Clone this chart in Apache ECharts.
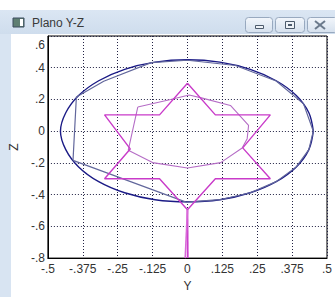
<!DOCTYPE html>
<html><head><meta charset="utf-8">
<script src="https://cdn.jsdelivr.net/npm/echarts@6/dist/echarts.min.js"></script>
<style>html,body{margin:0;padding:0;background:#fff}#c{width:335px;height:297px}</style>
</head><body><div id="c"></div>
<script>
const windowTitle = 'Plano Y-Z';
const xName = 'Y';
const yName = 'Z';
const xTickValues = [-0.5, -0.375, -0.25, -0.125, 0, 0.125, 0.25, 0.375, 0.5];
const xTickLabels = ['-.5', '-.375', '-.25', '-.125', '0', '.125', '.25', '.375', '.5'];
const zTickValues = [-0.8, -0.6, -0.4, -0.2, 0, 0.2, 0.4, 0.6];
const zTickLabels = ['-.8', '-.6', '-.4', '-.2', '0', '.2', '.4', '.6'];

// navy circle
const circleY = [0.451, 0.435, 0.39, 0.318, 0.225, 0.116, 0, -0.116, -0.225, -0.318, -0.39, -0.436, -0.455, -0.436, -0.39, -0.318, -0.225, -0.116, 0, 0.116, 0.225, 0.318, 0.39, 0.435, 0.451];
const circleZ = [0, 0.116, 0.225, 0.318, 0.39, 0.435, 0.45, 0.435, 0.39, 0.318, 0.225, 0.116, 0, -0.116, -0.225, -0.318, -0.388, -0.432, -0.445, -0.432, -0.388, -0.318, -0.225, -0.116, 0];

// slate coarse trace
const traceY = [-0.41, -0.005, 0.116, 0.225, 0.318, 0.39, 0.435, 0.451, 0.416, 0.318, 0.172, 0, -0.13, -0.30, -0.398, -0.41];
const traceZ = [-0.184, -0.447, -0.432, -0.388, -0.318, -0.225, -0.116, 0, 0.172, 0.316, 0.414, 0.447, 0.432, 0.315, 0.215, -0.184];

// magenta star
const starY = [0, 0.1, 0.297, 0.198, 0.297, 0.1, 0, -0.1, -0.297, -0.205, -0.297, -0.1, 0];
const starZ = [0.302, 0.103, 0.103, -0.105, -0.3, -0.3, -0.495, -0.3, -0.3, -0.112, 0.103, 0.103, 0.302];

// orchid loop
const loopY = [-0.178, -0.06, 0.006, 0.05, 0.154, 0.219, 0.214, 0.196, 0.119, 0, -0.125, -0.212, -0.178];
const loopZ = [0.152, 0.2, 0.228, 0.21, 0.162, 0.036, -0.047, -0.106, -0.198, -0.232, -0.198, -0.12, 0.152];

// stem below star
const stemAY = [0, 0.001];
const stemAZ = [-0.495, -0.8];
const stemBY = [0, -0.008];
const stemBZ = [-0.495, -0.8];

const zip = (a, b) => a.map((v, i) => [v, b[i]]);
const font = 'Liberation Sans, Arial, sans-serif';
const chart = echarts.init(document.getElementById('c'), null, {renderer: 'svg'});

function lineSeries(name, ys, zs, color, width, smooth) {
  return {name, type: 'line', data: zip(ys, zs), showSymbol: false, symbol: 'none', smooth: smooth || false,
    lineStyle: {color, width}, animation: false, z: 3};
}

chart.setOption({
  animation: false,
  backgroundColor: '#ffffff',
  grid: {left: 46, right: 8, top: 36, bottom: 38, show: true, borderColor: '#000', borderWidth: 1, backgroundColor: '#fff'},
  xAxis: {
    type: 'value', min: -0.5, max: 0.5, interval: 0.125,
    name: xName, nameLocation: 'middle', nameGap: 21,
    nameTextStyle: {color: '#333', fontSize: 12, fontFamily: font},
    axisLine: {show: true, onZero: false, lineStyle: {color: '#000', width: 1}},
    axisTick: {show: false},
    axisLabel: {color: '#333', fontSize: 12, fontFamily: font, margin: 5,
      formatter: v => { const i = xTickValues.findIndex(t => Math.abs(t - v) < 1e-6); return i >= 0 ? xTickLabels[i] : ''; }},
    splitLine: {show: true, lineStyle: {color: '#222244', width: 1, type: [1, 2]}}
  },
  yAxis: {
    type: 'value', min: -0.8, max: 0.6, interval: 0.2,
    name: yName, nameLocation: 'middle', nameGap: 25,
    nameTextStyle: {color: '#333', fontSize: 12, fontFamily: font},
    axisLine: {show: true, onZero: false, lineStyle: {color: '#000', width: 1}},
    axisTick: {show: false},
    axisLabel: {color: '#333', fontSize: 12, fontFamily: font, margin: 3,
      formatter: v => { const i = zTickValues.findIndex(t => Math.abs(t - v) < 1e-6); if (i < 0) return ''; return i === zTickValues.length - 1 ? '{t|' + zTickLabels[i] + '}' : zTickLabels[i]; },
      rich: {t: {color: '#333', fontSize: 12, fontFamily: font, padding: [18, 0, 0, 0]}}},
    splitLine: {show: true, lineStyle: {color: '#222244', width: 1, type: [1, 2]}}
  },
  graphic: [
    {type: 'rect', z: -10, shape: {x: 0, y: 10, width: 11, height: 287}, style: {fill: '#d8e4f2'}},
    {type: 'rect', z: -10, shape: {x: 0, y: 10, width: 335, height: 24},
      style: {fill: new echarts.graphic.LinearGradient(0, 0, 0, 1, [{offset: 0, color: '#dbe6f3'}, {offset: 1, color: '#cfdded'}])}},
    {type: 'rect', z: -9, shape: {x: 13, y: 18, width: 11, height: 9}, style: {fill: '#5f7f72', stroke: '#3d4d5e', lineWidth: 1}},
    {type: 'rect', z: -8, shape: {x: 20, y: 19, width: 3, height: 7}, style: {fill: '#ffffff'}},
    {type: 'text', z: -8, style: {x: 32, y: 23, text: windowTitle, fill: '#3a3a3a', fontSize: 12, fontFamily: 'Liberation Sans, Arial, sans-serif', verticalAlign: 'middle'}},
    {type: 'rect', z: -9, shape: {x: 245.5, y: 17.5, width: 27, height: 15, r: 3},
      style: {fill: new echarts.graphic.LinearGradient(0, 0, 0, 1, [{offset: 0, color: '#f2f6fb'}, {offset: 1, color: '#d6e1ee'}]), stroke: '#98a9bf', lineWidth: 1}},
    {type: 'rect', z: -8, shape: {x: 255.5, y: 25.5, width: 8, height: 3}, style: {fill: '#eef2f7', stroke: '#4d5b6c', lineWidth: 1}},
    {type: 'rect', z: -9, shape: {x: 275.5, y: 17.5, width: 29, height: 15, r: 3},
      style: {fill: new echarts.graphic.LinearGradient(0, 0, 0, 1, [{offset: 0, color: '#f2f6fb'}, {offset: 1, color: '#d6e1ee'}]), stroke: '#98a9bf', lineWidth: 1}},
    {type: 'rect', z: -8, shape: {x: 285.5, y: 21.5, width: 9, height: 7}, style: {fill: '#eef2f7', stroke: '#4d5b6c', lineWidth: 1}},
    {type: 'rect', z: -8, shape: {x: 288, y: 24, width: 4, height: 2}, style: {fill: '#4d5b6c'}},
    {type: 'rect', z: -9, shape: {x: 307.5, y: 17.5, width: 30, height: 15, r: 3},
      style: {fill: new echarts.graphic.LinearGradient(0, 0, 0, 1, [{offset: 0, color: '#f2f6fb'}, {offset: 1, color: '#d6e1ee'}]), stroke: '#98a9bf', lineWidth: 1}},
    {type: 'line', z: -8, shape: {x1: 315, y1: 21, x2: 325, y2: 29}, style: {stroke: '#6b7a8c', lineWidth: 2}},
    {type: 'line', z: -8, shape: {x1: 325, y1: 21, x2: 315, y2: 29}, style: {stroke: '#6b7a8c', lineWidth: 2}}
  ],
  series: [
    lineSeries('circle', circleY, circleZ, '#1b1b86', 1.4, 0.35),
    lineSeries('trace', traceY, traceZ, '#62679c', 1.2),
    lineSeries('loop', loopY, loopZ, '#b56dc6', 1.1),
    lineSeries('star', starY, starZ, '#c93bc9', 1.4),
    lineSeries('stemA', stemAY, stemAZ, '#cc3fcc', 1.8),
    lineSeries('stemB', stemBY, stemBZ, '#d86ad8', 1.6)
  ]
});
</script>
</body></html>
